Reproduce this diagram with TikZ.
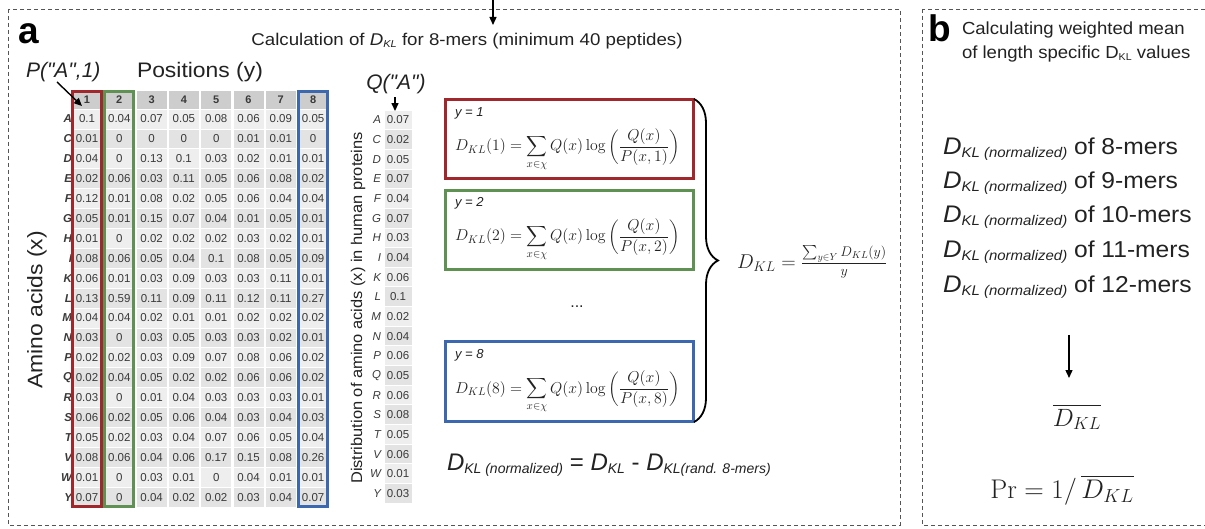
\RequirePackage{fix-cm}
\documentclass[tikz,border=0pt]{standalone}
\usepackage{amsmath}
\usepackage[no-math]{fontspec}
\newfontfamily\arial{Liberation Sans}
\usetikzlibrary{arrows.meta,decorations.pathreplacing,calc,fit}

\definecolor{boxred}{HTML}{A0282C}
\definecolor{boxgreen}{HTML}{5E9152}
\definecolor{boxblue}{HTML}{3C68B0}
\definecolor{cellA}{HTML}{EEEEEE}
\definecolor{cellB}{HTML}{E3E3E3}
\definecolor{cellhead}{HTML}{CDCDCD}
\definecolor{ink}{HTML}{222222}
\definecolor{soft}{HTML}{3A3A3A}
\definecolor{border}{HTML}{555555}

\newcommand\fsz[2]{\fontsize{#1}{#2}\selectfont}
% slightly widened lettering
\newcommand\wide[2]{\scalebox{#1}[1]{#2}}
% italic D with a smaller, lowered italic subscript
\newcommand\Dsub[4]{{\fsz{#1}{#1}\itshape D}{\fsz{#2}{#2}\itshape\raisebox{-#3}{#4}}}

% one row of the position matrix: index, amino acid, eight values
\newcommand\tabrow[3]{%
  \pgfmathsetmacro\ry{119+19.9*(#1-1)}%
  \ifodd#1 \def\cf{cellA}\else\def\cf{cellB}\fi
  \node[rowlab] (lab-#1) at (72,\ry) {#2};
  \foreach \v [count=\c] in {#3}{%
    \pgfmathsetmacro\cx{87+32.3*(\c-1)}%
    \node[cell, fill=\cf] (c-#1-\c) at (\cx,\ry) {\v};
  }%
}

\begin{document}
\begin{tikzpicture}[x=1pt,y=-1pt,
  every node/.style={font=\arial, text=ink, inner sep=0pt, outer sep=0pt},
  panelborder/.style={draw=border, dash pattern=on 4pt off 3pt, line width=0.9pt},
  arr/.style={draw=black, line width=1.4pt, -{Triangle[length=8pt,width=7pt]}},
  cell/.style={draw=white, line width=0.8pt, minimum width=31pt, minimum height=19.9pt,
    font=\arial\fsz{11.5}{12}, text=soft},
  hcell/.style={cell, fill=cellhead, minimum height=19pt, font=\arial\bfseries\fsz{11}{12}},
  rowlab/.style={anchor=east, font=\arial\bfseries\itshape\fsz{11.5}{12}, text=soft},
  qlab/.style={anchor=east, font=\arial\itshape\fsz{11.5}{12}, text=soft},
  colbox/.style={draw=#1, line width=3pt, inner sep=-1pt},
  fbox/.style={draw=#1, line width=3pt, minimum width=248pt, minimum height=79pt},
  ylab/.style={anchor=base west, font=\arial\itshape\fsz{13}{13}},
  eqn/.style={anchor=base west, font=\fsz{15.8}{19}},
  biglab/.style={anchor=base west, font=\arial\bfseries\fsz{37}{37}, text=black}
]
\useasboundingbox (0,0) rectangle (1205,529);

% panel frames
\draw[panelborder] (8,9) rectangle (900,525);
\draw[panelborder] (922,9) rectangle (1230,525);

% incoming arrow at the top
\coordinate (topin) at (493,-2);
\coordinate (topout) at (493,25);
\draw[arr] (topin) -- (topout);

% ---------------- panel a ----------------
\node[biglab] (la) at (18,44) {a};
\node[anchor=base, font=\arial\fsz{17}{17}] (title) at (467,46)
  {\wide{1.1}{Calculation of \Dsub{17}{10}{2pt}{KL} for 8-mers (minimum 40 peptides)}};

\node[anchor=base west, font=\arial\itshape\fsz{21}{21}] (plab) at (26,78) {P("A",1)};
\node[anchor=base west, font=\arial\fsz{21}{21}] (pos) at (137,78) {\wide{1.09}{Positions (y)}};

% header
\foreach \c in {1,...,8}{%
  \pgfmathsetmacro\cx{87+32.3*(\c-1)}%
  \node[hcell] (h-\c) at (\cx,100) {\c};
}

\tabrow{1}{A}{0.1,0.04,0.07,0.05,0.08,0.06,0.09,0.05}
\tabrow{2}{C}{0.01,0,0,0,0,0.01,0.01,0}
\tabrow{3}{D}{0.04,0,0.13,0.1,0.03,0.02,0.01,0.01}
\tabrow{4}{E}{0.02,0.06,0.03,0.11,0.05,0.06,0.08,0.02}
\tabrow{5}{F}{0.12,0.01,0.08,0.02,0.05,0.06,0.04,0.04}
\tabrow{6}{G}{0.05,0.01,0.15,0.07,0.04,0.01,0.05,0.01}
\tabrow{7}{H}{0.01,0,0.02,0.02,0.02,0.03,0.02,0.01}
\tabrow{8}{I}{0.08,0.06,0.05,0.04,0.1,0.08,0.05,0.09}
\tabrow{9}{K}{0.06,0.01,0.03,0.09,0.03,0.03,0.11,0.01}
\tabrow{10}{L}{0.13,0.59,0.11,0.09,0.11,0.12,0.11,0.27}
\tabrow{11}{M}{0.04,0.04,0.02,0.01,0.01,0.02,0.02,0.02}
\tabrow{12}{N}{0.03,0,0.03,0.05,0.03,0.03,0.02,0.01}
\tabrow{13}{P}{0.02,0.02,0.03,0.09,0.07,0.08,0.06,0.02}
\tabrow{14}{Q}{0.02,0.04,0.05,0.02,0.02,0.06,0.06,0.02}
\tabrow{15}{R}{0.03,0,0.01,0.04,0.03,0.03,0.03,0.01}
\tabrow{16}{S}{0.06,0.02,0.05,0.06,0.04,0.03,0.04,0.03}
\tabrow{17}{T}{0.05,0.02,0.03,0.04,0.07,0.06,0.05,0.04}
\tabrow{18}{V}{0.08,0.06,0.04,0.06,0.17,0.15,0.08,0.26}
\tabrow{19}{W}{0.01,0,0.03,0.01,0,0.04,0.01,0.01}
\tabrow{20}{Y}{0.07,0,0.04,0.02,0.02,0.03,0.04,0.07}

% highlighted positions
\node[colbox=boxred, fit=(h-1)(c-20-1)] (col1) {};
\node[colbox=boxgreen, fit=(h-2)(c-20-2)] (col2) {};
\node[colbox=boxblue, fit=(h-8)(c-20-8)] (col8) {};

\coordinate (pstart) at (57,82);
\coordinate (ptip) at (82,106);
\draw[arr] (pstart) -- (ptip);

\node[rotate=90, font=\arial\fsz{21}{21}] (aalab) at (37,310) {\wide{1.09}{Amino acids (x)}};

% background distribution Q
\node[anchor=base, font=\arial\itshape\fsz{21}{21}] (qlab) at (396,90) {Q("A")};
\foreach \L/\v [count=\r] in {A/0.07,C/0.02,D/0.05,E/0.07,F/0.04,G/0.07,H/0.03,I/0.04,K/0.06,L/0.1,
    M/0.02,N/0.04,P/0.06,Q/0.05,R/0.06,S/0.08,T/0.05,V/0.06,W/0.01,Y/0.03}{%
  \pgfmathsetmacro\qy{120+19.65*(\r-1)}%
  \ifodd\r \def\cf{cellA}\else\def\cf{cellB}\fi
  \node[qlab] (ql-\r) at (381,\qy) {\L};
  \node[cell, fill=\cf, minimum width=28pt] (q-\r) at (398,\qy) {\v};
}
\draw[arr] (qlab.south -| q-1.north) ++(-3,3) -- ($(q-1.north)+(-3,1)$);
\node[rotate=90, font=\arial\fsz{15.5}{16}] (dist) at (358,308)
  {\wide{1.06}{Distribution of amino acids (x) in human proteins}};

% position specific divergences
\node[fbox=boxred] (f1) at (569,139.5) {};
\node[fbox=boxgreen] (f2) at (569,230) {};
\node[fbox=boxblue] (f3) at (569,381.5) {};

\node[ylab] (y1) at (455,117) {y = 1};
\node[ylab] (y2) at (455,207) {y = 2};
\node[ylab] (y3) at (455,359) {y = 8};

\node[eqn] (e1) at (455,151) {$\displaystyle D_{KL}(1) = \sum_{x\in\chi} Q(x)\log\left(\frac{Q(x)}{P(x,1)}\right)$};
\node[eqn] (e2) at (455,241) {$\displaystyle D_{KL}(2) = \sum_{x\in\chi} Q(x)\log\left(\frac{Q(x)}{P(x,2)}\right)$};
\node[eqn] (e3) at (455,393) {$\displaystyle D_{KL}(8) = \sum_{x\in\chi} Q(x)\log\left(\frac{Q(x)}{P(x,8)}\right)$};

\node[font=\arial\fsz{16}{16}] (dots) at (577,307) {...};

\draw[decorate, decoration={brace, amplitude=24pt}, line width=1.8pt]
  ($(f1.north east)+(1,-1)$) -- ($(f3.south east)+(1,1)$);

\node[anchor=west, font=\fsz{20}{22}] (dklall) at (737,262)
  {$D_{KL} = \frac{\sum_{y\in Y} D_{KL}(y)}{y}$};

\node[anchor=base west, font=\arial\fsz{24}{24}] (norm) at (447,470)
  {\Dsub{24}{14}{3pt}{KL (normalized)} = \Dsub{24}{14}{3pt}{KL} - \Dsub{24}{14}{3pt}{KL(rand. 8-mers)}};

% ---------------- panel b ----------------
\node[biglab] (lb) at (928,42) {b};
\node[anchor=base west, font=\arial\fsz{17.5}{17.5}] (bt1) at (962,35) {\wide{1.06}{Calculating weighted mean}};
\node[anchor=base west, font=\arial\fsz{17.5}{17.5}] (bt2) at (962,59)
  {\wide{1.06}{of length specific D{\fsz{10}{10}\raisebox{-2pt}{KL}} values}};

\foreach \n/\yy [count=\k] in {8/155,9/189,10/223,11/258,12/293}{%
  \node[anchor=base west, font=\arial\fsz{23}{23}] (bl-\k) at (943,\yy)
    {\wide{1.07}{\Dsub{24}{14}{3pt}{KL (normalized)} of \n-mers}};
}

\coordinate (bstart) at (1069,335);
\coordinate (bend) at (1069,378);
\draw[arr] (bstart) -- (bend);

\node[font=\fsz{25}{25}] (dbar) at (1077,417) {$\overline{D_{KL}}$};
\node[anchor=base, font=\fsz{27}{27}] (pr) at (1062,498) {$\mathrm{Pr} = 1/\,\overline{D_{KL}}$};
\end{tikzpicture}
\end{document}
